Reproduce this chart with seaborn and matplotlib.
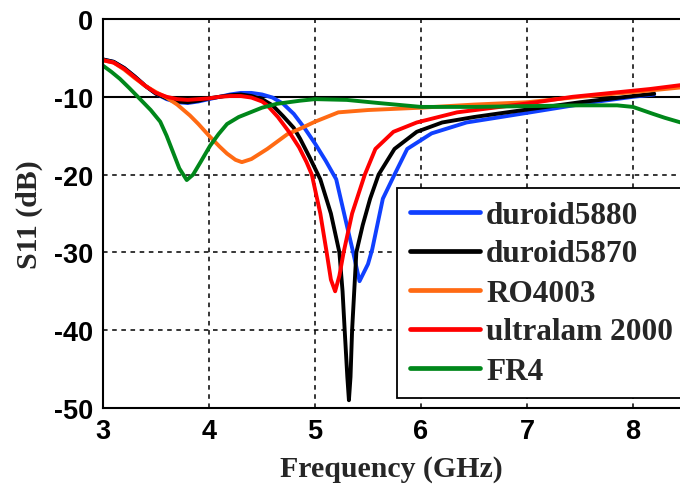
import numpy as np
import pandas as pd
import matplotlib
matplotlib.use("Agg")
import matplotlib.pyplot as plt
import seaborn as sns

# ---- data ----
f_d5880 = [3.0, 3.1, 3.2, 3.3, 3.4, 3.5, 3.6, 3.7, 3.8, 3.9, 4.0, 4.1, 4.2, 4.3, 4.4, 4.5,
           4.6, 4.7, 4.8, 4.9, 5.0, 5.1, 5.2, 5.3, 5.36, 5.42, 5.5, 5.54, 5.64, 5.75, 5.87,
           6.1, 6.43, 7.03, 7.62, 8.0, 8.2]
s_d5880 = [-5.2, -5.5, -6.3, -7.4, -8.6, -9.6, -10.3, -10.7, -10.8, -10.6, -10.3, -10.0, -9.7,
           -9.5, -9.5, -9.7, -10.1, -10.9, -12.2, -14.0, -16.0, -18.2, -20.6, -26.5, -30.0,
           -33.7, -31.5, -29.6, -23.1, -20.0, -16.7, -14.7, -13.3, -12.0, -10.7, -10.0, -9.7]

f_d5870 = [3.0, 3.1, 3.2, 3.3, 3.4, 3.5, 3.6, 3.7, 3.8, 3.9, 4.0, 4.1, 4.2, 4.3, 4.4, 4.5,
           4.6, 4.7, 4.8, 4.86, 4.95, 5.05, 5.15, 5.23, 5.26, 5.28, 5.305, 5.32, 5.335, 5.35,
           5.37, 5.39, 5.45, 5.52, 5.6, 5.75, 5.96, 6.2, 6.5, 6.81, 7.5, 8.0, 8.2]
s_d5870 = [-5.2, -5.5, -6.3, -7.4, -8.6, -9.6, -10.2, -10.6, -10.7, -10.5, -10.2, -10.0, -9.8,
           -9.7, -9.9, -10.3, -11.1, -12.5, -14.0, -15.4, -17.8, -20.6, -25.0, -30.0, -35.0,
           -40.0, -46.0, -49.0, -46.0, -40.0, -35.0, -30.0, -26.5, -23.1, -20.0, -16.7, -14.5,
           -13.3, -12.6, -12.0, -10.7, -9.9, -9.6]

f_ro4003 = [3.0, 3.1, 3.2, 3.3, 3.4, 3.5, 3.6, 3.7, 3.82, 3.9, 4.0, 4.1, 4.17, 4.25, 4.31, 4.4,
            4.55, 4.74, 4.86, 5.0, 5.22, 5.5, 6.0, 6.5, 7.0, 7.5, 8.0, 8.45]
s_ro4003 = [-5.3, -5.6, -6.5, -7.6, -8.6, -9.4, -10.1, -11.0, -12.4, -13.5, -15.0, -16.4, -17.3,
            -18.1, -18.4, -18.0, -16.7, -14.8, -14.1, -13.2, -12.0, -11.7, -11.4, -11.0, -10.7,
            -10.0, -9.4, -8.8]

f_ultra = [3.0, 3.1, 3.2, 3.3, 3.4, 3.5, 3.6, 3.7, 3.8, 3.9, 4.0, 4.1, 4.2, 4.3, 4.4, 4.5, 4.55,
           4.65, 4.76, 4.85, 4.92, 4.97, 5.05, 5.11, 5.15, 5.19, 5.23, 5.27, 5.35, 5.47, 5.57,
           5.74, 5.96, 6.34, 7.09, 7.43, 8.16, 8.45]
s_ultra = [-5.3, -5.6, -6.4, -7.5, -8.6, -9.5, -10.0, -10.3, -10.4, -10.3, -10.2, -10.0, -9.9,
           -9.9, -10.1, -10.6, -11.1, -12.6, -14.6, -16.5, -18.4, -20.0, -25.0, -30.0, -33.5,
           -35.0, -33.0, -30.0, -25.0, -20.0, -16.7, -14.5, -13.3, -12.0, -10.7, -10.0, -9.0,
           -8.5]

f_fr4 = [3.0, 3.08, 3.16, 3.25, 3.35, 3.45, 3.54, 3.6, 3.66, 3.72, 3.79, 3.85, 3.92, 4.01, 4.09,
         4.17, 4.28, 4.39, 4.5, 4.64, 4.86, 5.0, 5.3, 5.6, 6.0, 6.5, 7.0, 7.5, 7.85, 8.0, 8.19,
         8.3, 8.45]
s_fr4 = [-6.0, -6.8, -7.7, -8.9, -10.3, -11.7, -13.2, -15.0, -17.1, -19.2, -20.7, -20.0, -18.4,
         -16.3, -14.8, -13.5, -12.6, -12.0, -11.4, -10.9, -10.5, -10.3, -10.4, -10.8, -11.3,
         -11.3, -11.2, -11.1, -11.1, -11.3, -12.2, -12.7, -13.3]

materials = ["duroid5880", "duroid5870", "RO4003", "ultralam 2000", "FR4"]
colors = ["#1040ff", "#000000", "#ff6a13", "#ff0000", "#00871a"]
x_ticks = [3, 4, 5, 6, 7, 8]
y_ticks = [0, -10, -20, -30, -40, -50]

series = [(f_d5880, s_d5880), (f_d5870, s_d5870), (f_ro4003, s_ro4003),
          (f_ultra, s_ultra), (f_fr4, s_fr4)]
df = pd.concat([pd.DataFrame({"Frequency": f, "S11": s, "Material": m})
                for (f, s), m in zip(series, materials)], ignore_index=True)

sns.set_theme(style="white")
plt.rcParams["axes.unicode_minus"] = False

fig = plt.figure(figsize=(6.8, 4.85), dpi=100)
ax = fig.add_axes([103 / 680, 1 - 409 / 485, 577 / 680, 389 / 485])

sns.lineplot(data=df, x="Frequency", y="S11", hue="Material", hue_order=materials,
             palette=colors, linewidth=2.8, sort=False, estimator=None, ax=ax, legend=False)

ax.axhline(-10, color="black", lw=1.5, zorder=1)

ax.set_xlim(3, 3 + 577 / 106)
ax.set_ylim(-50, 0)
ax.set_xticks(x_ticks)
ax.set_yticks(y_ticks)
ax.set_xticklabels([str(t) for t in x_ticks])
ax.set_yticklabels([str(t) for t in y_ticks])
ax.grid(True, color="black", linestyle=(0, (3, 3)), linewidth=1.1)
ax.set_axisbelow(True)

for side in ["left", "bottom", "top"]:
    ax.spines[side].set_visible(True)
    ax.spines[side].set_color("black")
    ax.spines[side].set_linewidth(1.5)
ax.spines["right"].set_visible(False)

ax.tick_params(axis="both", direction="in", length=5, width=1.2, color="black",
               pad=7, labelcolor="black")
for lbl in ax.get_xticklabels() + ax.get_yticklabels():
    lbl.set_fontfamily("Liberation Sans")
    lbl.set_fontweight("bold")
    lbl.set_fontsize(19.5)

label_font = dict(family="Liberation Serif", weight="bold", size=21.5)
ax.set_xlabel("Frequency (GHz)", fontdict=label_font, labelpad=8)
ax.set_ylabel("S11 (dB)", fontdict=label_font, labelpad=8)

handles = [plt.Line2D([], [], color=c, lw=3.4) for c in colors]
leg = ax.legend(handles, materials, loc="upper left",
                bbox_to_anchor=((397 - 103) / 577, (409 - 189) / 389),
                prop=dict(family="Liberation Serif", weight="bold", size=22.5),
                frameon=True, fancybox=False, edgecolor="black", framealpha=1,
                borderpad=0.4, labelspacing=0.32, handlelength=2.25, handletextpad=0.2,
                borderaxespad=0)
leg.get_frame().set_linewidth(1.3)

fig.savefig("out.png", dpi=100)
